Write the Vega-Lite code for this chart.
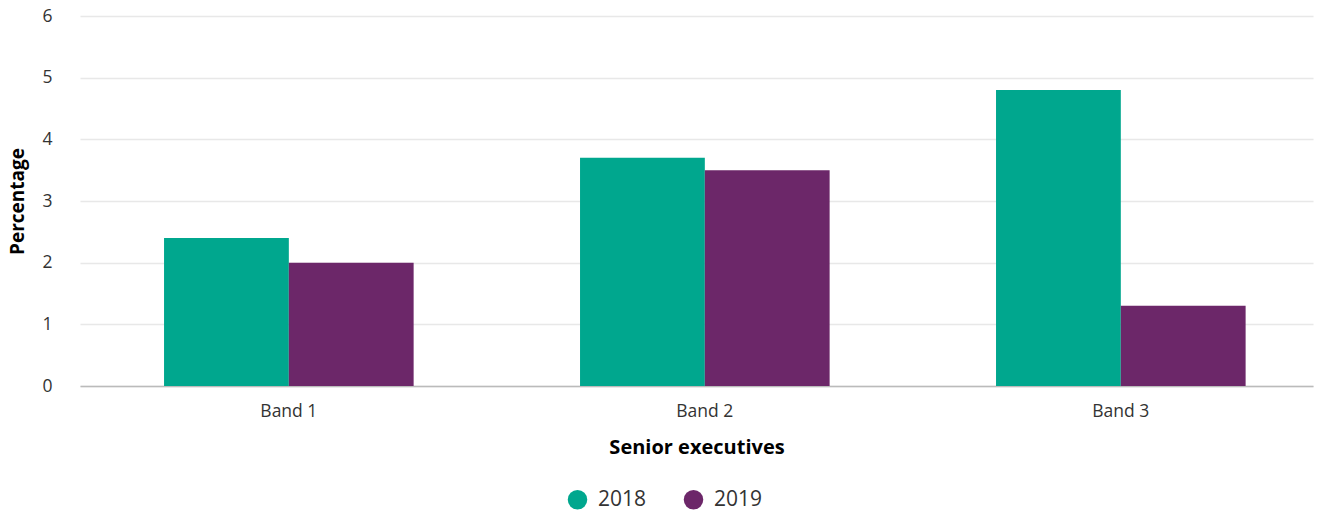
{
  "$schema": "https://vega.github.io/schema/vega-lite/v6.json",
  "autosize": {"type": "none"},
  "padding": {"left": 80, "top": 16, "right": 16, "bottom": 126},
  "width": 1233,
  "height": 370,
  "background": "white",
  "config": {
    "view": {"stroke": null},
    "font": "Open Sans"
  },
  "data": {
    "values": [
      {"band": "Band 1", "year": "2018", "value": 2.4},
      {"band": "Band 1", "year": "2019", "value": 2.0},
      {"band": "Band 2", "year": "2018", "value": 3.7},
      {"band": "Band 2", "year": "2019", "value": 3.5},
      {"band": "Band 3", "year": "2018", "value": 4.8},
      {"band": "Band 3", "year": "2019", "value": 1.3}
    ]
  },
  "mark": {"type": "bar"},
  "encoding": {
    "x": {
      "field": "band",
      "type": "nominal",
      "scale": {"paddingInner": 0.4, "paddingOuter": 0.182, "align": 0.555},
      "axis": {
        "title": "Senior executives",
        "titleFontSize": 20,
        "titleFontWeight": "bold",
        "titleColor": "#000",
        "titlePadding": 18,
        "labelAngle": 0,
        "labelFontSize": 17.5,
        "labelColor": "#333",
        "labelPadding": 16,
        "ticks": false,
        "domainColor": "#bbb",
        "domainWidth": 1.5
      }
    },
    "xOffset": {"field": "year", "type": "nominal"},
    "y": {
      "field": "value",
      "type": "quantitative",
      "scale": {"domain": [0, 6]},
      "axis": {
        "title": "Percentage",
        "titleFontSize": 19,
        "titleFontWeight": "bold",
        "titleColor": "#000",
        "titlePadding": 14,
        "values": [0, 1, 2, 3, 4, 5, 6],
        "labelOverlap": false,
        "labelFontSize": 17.5,
        "labelColor": "#333",
        "labelPadding": 28,
        "ticks": false,
        "domain": false,
        "gridColor": "#e8e8e8",
        "gridWidth": 1.5
      }
    },
    "color": {
      "field": "year",
      "type": "nominal",
      "scale": {"domain": ["2018", "2019"], "range": ["#00a78e", "#6c2769"]},
      "legend": {
        "title": null,
        "orient": "none",
        "direction": "horizontal",
        "legendX": 487,
        "legendY": 473,
        "symbolType": "circle",
        "symbolSize": 380,
        "labelFontSize": 21,
        "labelColor": "#333",
        "columnPadding": 36,
        "labelOffset": 10
      }
    }
  }
}
